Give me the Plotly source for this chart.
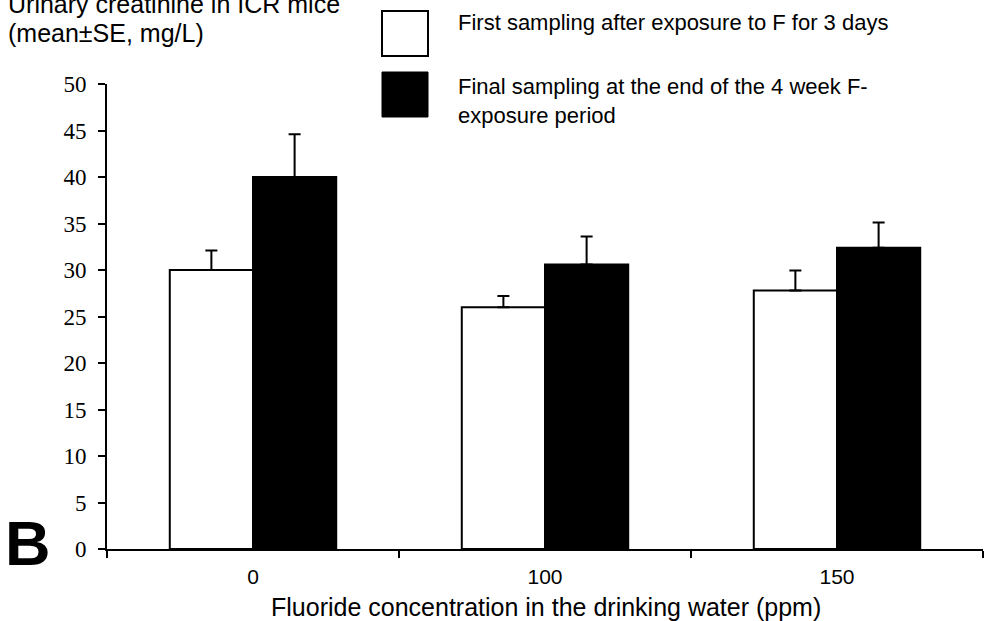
import plotly.graph_objects as go

categories = ["0", "100", "150"]
first_vals = [30.0, 26.0, 27.8]
first_se = [2.1, 1.2, 2.15]
final_vals = [40.0, 30.6, 32.4]
final_se = [4.6, 3.0, 2.7]
y_ticks = [0, 5, 10, 15, 20, 25, 30, 35, 40, 45, 50]
name_first = "First sampling after exposure to F for 3 days"
name_final = "Final sampling at the end of the 4 week F-<br>exposure period"
y_title_lines = ["Urinary creatinine in ICR mice", "(mean±SE, mg/L)"]
x_title = "Fluoride concentration in the drinking water (ppm)"

SANS = "Liberation Sans"
SERIF = "Liberation Serif, Times New Roman, serif"

W, H = 989, 621
L, R, T, B = 107, 6, 84, 72
pw, ph = W - L - R, H - T - B

def px(x):
    return (x - L) / pw

def py(y):
    return (H - B - y) / ph

fig = go.Figure()
fig.add_trace(go.Bar(
    x=categories, y=first_vals, name=name_first,
    marker=dict(color="white", line=dict(color="black", width=2)),
    error_y=dict(type="data", array=first_se, symmetric=False, arrayminus=[0]*3,
                 color="black", thickness=2, width=6),
))
fig.add_trace(go.Bar(
    x=categories, y=final_vals, name=name_final,
    marker=dict(color="black", line=dict(color="black", width=2)),
    error_y=dict(type="data", array=final_se, symmetric=False, arrayminus=[0]*3,
                 color="black", thickness=2, width=6),
))

fig.update_layout(
    width=W, height=H,
    margin=dict(l=L, r=R, t=T, b=B),
    paper_bgcolor="white", plot_bgcolor="white",
    barmode="group", bargap=0.43, bargroupgap=0,
    showlegend=False,
    font=dict(family=SANS, color="black", size=21),
)
fig.update_xaxes(
    showline=True, linecolor="black", linewidth=2,
    ticks="outside", tickson="boundaries", ticklen=7, tickwidth=2, tickcolor="black",
    showgrid=False, zeroline=False,
    tickfont=dict(family=SANS, size=21, color="black"),
    ticklabelstandoff=8,
)
fig.update_yaxes(
    range=[0, 50], tickvals=y_ticks,
    showline=True, linecolor="black", linewidth=2,
    ticks="outside", ticklen=7, tickwidth=2, tickcolor="black",
    showgrid=False, zeroline=False,
    tickfont=dict(family=SERIF, size=23, color="black"),
    ticklabelstandoff=7,
)

# x-axis title
fig.add_annotation(text=x_title, xref="paper", yref="paper",
                   x=px(546), y=py(607), xanchor="center", yanchor="middle",
                   showarrow=False, font=dict(family=SANS, size=25, color="black"))

# y-axis title lines (top-left)
fig.add_annotation(text=y_title_lines[0], xref="paper", yref="paper",
                   x=px(6), y=py(4), xanchor="left", yanchor="middle",
                   showarrow=False, font=dict(family=SANS, size=25, color="black"))
fig.add_annotation(text=y_title_lines[1], xref="paper", yref="paper",
                   x=px(6), y=py(33), xanchor="left", yanchor="middle",
                   showarrow=False, font=dict(family=SANS, size=25, color="black"))

# custom legend
fig.add_shape(type="rect", xref="paper", yref="paper",
              x0=px(382), x1=px(428), y0=py(56), y1=py(11),
              line=dict(color="black", width=2), fillcolor="white")
fig.add_shape(type="rect", xref="paper", yref="paper",
              x0=px(382), x1=px(428), y0=py(117), y1=py(72),
              line=dict(color="black", width=1), fillcolor="black")
fig.add_annotation(text=name_first, xref="paper", yref="paper",
                   x=px(456), y=py(22), xanchor="left", yanchor="middle",
                   showarrow=False, font=dict(family=SANS, size=22, color="black"))
fig.add_annotation(text=name_final, xref="paper", yref="paper",
                   x=px(456), y=py(101), xanchor="left", yanchor="middle", align="left",
                   showarrow=False, font=dict(family=SANS, size=22, color="black"))

# panel letter
fig.add_annotation(text="<b>B</b>", xref="paper", yref="paper",
                   x=px(3), y=py(543), xanchor="left", yanchor="middle",
                   showarrow=False, font=dict(family=SANS, size=63, color="black"))

fig.write_html("out.html", config={"displayModeBar": False},
               post_script="document.body.style.margin='0';")
